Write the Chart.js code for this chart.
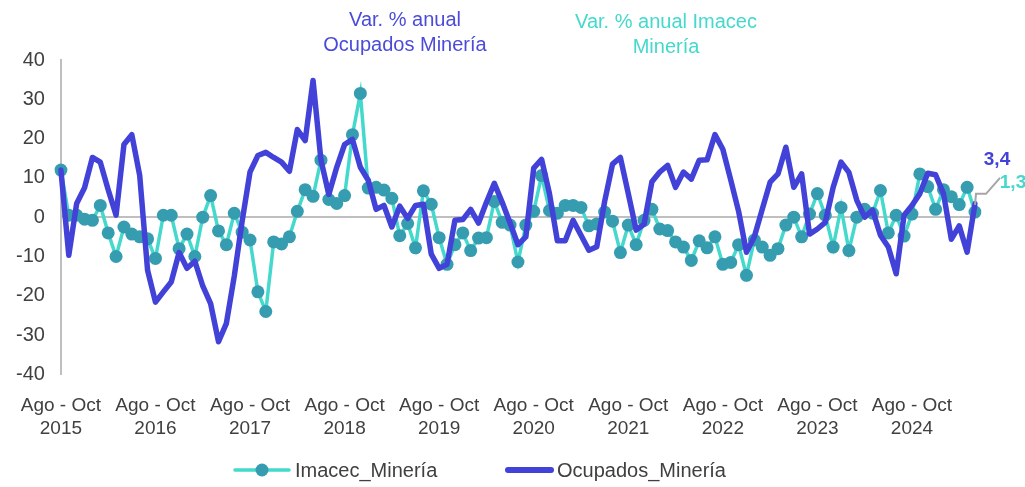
<!DOCTYPE html>
<html>
<head>
<meta charset="utf-8">
<script src="https://cdn.jsdelivr.net/npm/chart.js@4/dist/chart.umd.min.js"></script>
<style>
  html, body { margin: 0; padding: 0; background: #ffffff; }
  #wrap { width: 1025px; height: 487px; position: relative; }
</style>
</head>
<body>
<div id="wrap"><canvas id="c" width="1025" height="487"></canvas></div>
<script>
// ---- Data ----
const quarterNames = ["Ago - Oct", "Sep - Nov", "Oct - Dic", "Nov - Ene", "Dic - Feb", "Ene - Mar",
                      "Feb - Abr", "Mar - May", "Abr - Jun", "May - Jul", "Jun - Ago", "Jul - Sep"];
const tickYears = ["2015", "2016", "2017", "2018", "2019", "2020", "2021", "2022", "2023", "2024"];

const imacecMineria = [
  12, 0.5, 0.5, -0.5, -0.8, 3, -4, -10, -2.5, -4.3,
  -5, -5.5, -10.5, 0.5, 0.5, -8, -4.3, -10, 0, 5.5,
  -3.5, -7, 1, -3.8, -5.8, -19, -24, -6.3, -6.8, -5,
  1.5, 7, 5.3, 14.5, 4.5, 3.5, 5.5, 21, 31.5, 7.4,
  7.6, 6.9, 4.8, -4.7, -1.6, -7.8, 6.7, 3.3, -5.2, -12,
  -7, -4, -8.5, -5.3, -5.2, 4, -1.3, -2, -11.4, -2,
  1.5, 10.6, 1.7, 1, 3, 3, 2.5, -2.2, -1.7, 1.3,
  -1, -9, -2, -7, -0.8, 2, -3, -3.4, -6.3, -7.6,
  -11, -6, -7.8, -5, -12, -11.5, -7, -14.8, -5.8, -7.6,
  -9.7, -8, -2, 0, -5, 0.8, 6, 0.5, -7.6, 2.5,
  -8.5, 0, 2, 1, 6.8, -4, 0.5, -4.8, 0.8, 11,
  7.8, 2, 7, 5.2, 3.2, 7.6, 1.3
];

const ocupadosMineria = [
  12, -9.7, 3.5, 7.5, 15.2, 14, 7, 0.5, 18.5, 21,
  10.6, -13.5, -21.6, -19, -16.5, -9, -13, -11.2, -17.5, -22,
  -31.7, -27, -15, -1, 11.5, 15.7, 16.5, 15.2, 14, 11.7,
  22.3, 19.5, 34.8, 14.5, 5.8, 12.7, 18.5, 19.8, 12.7, 9.4,
  2, 3, -2.5, 2.8, -0.3, 3, 3.3, -9.4, -13, -12,
  -0.8, -0.6, 2, -1.5, 3.8, 8.6, 3.8, -1.5, -7, -5,
  12.5, 14.7, 6, -6, -6, -0.8, -4.6, -8.4, -7.5, 4,
  13.5, 15.2, 6, -3.3, -1.8, 9, 11.5, 13.2, 7.6, 11.5,
  9.7, 14.5, 14.6, 21, 17.3, 9.5, 1.5, -8.9, -5, 2,
  8.9, 11, 17.8, 7.6, 11, -4.3, -3, -1.3, 7.6, 14,
  11.4, 4.3, 0, 1.8, -4.6, -7.6, -14.4, 0.5, 3, 6,
  11.2, 10.8, 6, -5.6, -2.2, -8.9, 3.4
];

const seriesNames = ["Imacec_Minería", "Ocupados_Minería"];
const lastLabels = ["1,3", "3,4"];
const titleOcupados = ["Var. % anual", "Ocupados Minería"];
const titleImacec = ["Var. % anual Imacec", "Minería"];

// categories: rolling quarters starting Ago-Oct 2015
const categories = imacecMineria.map((_, i) => {
  const y = 2015 + Math.floor((i + 7) / 12);
  return quarterNames[i % 12] + " " + y;
});

// ---- Styles ----
const FONT = "'Liberation Sans', Arial, sans-serif";
const TEAL_LINE = "#44d9cc";
const TEAL_MARK = "#369db1";
const BLUE = "#4242d9";
const AXIS_GRAY = "#bfbfbf";
const TEXT = "#404040";

Chart.defaults.font.family = FONT;
Chart.defaults.color = TEXT;

const annotations = {
  id: "annotations",
  afterDatasetsDraw(chart) {
    const ctx = chart.ctx;
    const xS = chart.scales.x, yS = chart.scales.y;
    const n = ocupadosMineria.length - 1;
    const px = xS.getPixelForValue(n);
    const pyB = yS.getPixelForValue(ocupadosMineria[n]);
    ctx.save();
    // leader lines for the last-value labels
    ctx.strokeStyle = "#a6a6a6";
    ctx.lineWidth = 2;
    ctx.beginPath();
    ctx.moveTo(px, pyB + 1);
    ctx.lineTo(px + 1, pyB - 10);
    ctx.lineTo(px + 11, pyB - 10);
    ctx.lineTo(px + 25, pyB - 26);
    ctx.stroke();
    ctx.font = "bold 19px " + FONT;
    ctx.textBaseline = "middle";
    ctx.textAlign = "center";
    ctx.fillStyle = BLUE;
    ctx.fillText(lastLabels[1], px + 22, pyB - 44);
    ctx.fillStyle = TEAL_LINE;
    ctx.fillText(lastLabels[0], px + 38, pyB - 21);
    // floating titles
    ctx.font = "20px " + FONT;
    ctx.fillStyle = "#4b4bdb";
    ctx.fillText(titleOcupados[0], 405, 20);
    ctx.fillText(titleOcupados[1], 405, 45);
    ctx.fillStyle = TEAL_LINE;
    ctx.fillText(titleImacec[0], 666, 22);
    ctx.fillText(titleImacec[1], 666, 47);
    // legend
    const ly = 470;
    ctx.lineCap = "round";
    ctx.strokeStyle = TEAL_LINE; ctx.lineWidth = 3.5;
    ctx.beginPath(); ctx.moveTo(235, ly); ctx.lineTo(289, ly); ctx.stroke();
    ctx.fillStyle = TEAL_MARK;
    ctx.beginPath(); ctx.arc(262, ly, 6.5, 0, Math.PI * 2); ctx.fill();
    ctx.strokeStyle = BLUE; ctx.lineWidth = 6;
    ctx.beginPath(); ctx.moveTo(508, ly); ctx.lineTo(551, ly); ctx.stroke();
    ctx.font = "20px " + FONT;
    ctx.fillStyle = TEXT;
    ctx.textAlign = "left";
    ctx.fillText(seriesNames[0], 295, ly + 1);
    ctx.fillText(seriesNames[1], 557, ly + 1);
    ctx.restore();
  }
};

new Chart(document.getElementById("c"), {
  type: "line",
  data: {
    labels: categories,
    datasets: [
      {
        label: seriesNames[0],
        data: imacecMineria,
        borderColor: TEAL_LINE,
        backgroundColor: TEAL_MARK,
        borderWidth: 3.5,
        pointRadius: 6.5,
        pointBorderWidth: 0,
        pointBackgroundColor: TEAL_MARK,
        pointBorderColor: TEAL_MARK,
        tension: 0,
        order: 2
      },
      {
        label: seriesNames[1],
        data: ocupadosMineria,
        borderColor: BLUE,
        backgroundColor: BLUE,
        borderWidth: 5.5,
        pointRadius: 0,
        tension: 0,
        borderJoinStyle: "round",
        borderCapStyle: "round",
        order: 1
      }
    ]
  },
  options: {
    responsive: false,
    animation: false,
    layout: { padding: { left: 0, right: 50, top: 60, bottom: 27 } },
    plugins: {
      tooltip: { enabled: false },
      legend: { display: false }
    },
    scales: {
      x: {
        type: "category",
        offset: false,
        grid: { display: false, drawTicks: false },
        border: { display: false },
        ticks: {
          autoSkip: false,
          maxRotation: 0,
          minRotation: 0,
          padding: 20,
          font: { size: 19, family: FONT },
          color: TEXT,
          callback(value, index) {
            if (index % 12 === 0) return [quarterNames[0], tickYears[index / 12]];
            return "";
          }
        }
      },
      y: {
        min: -40,
        max: 40,
        ticks: { stepSize: 10, padding: 16, font: { size: 20, family: FONT }, color: TEXT },
        grid: {
          drawTicks: false,
          lineWidth: 2,
          color: (c) => (c.tick && c.tick.value === 0 ? AXIS_GRAY : "rgba(0,0,0,0)")
        },
        border: { display: true, color: AXIS_GRAY, width: 2 }
      }
    }
  },
  plugins: [annotations]
});
</script>
</body>
</html>
